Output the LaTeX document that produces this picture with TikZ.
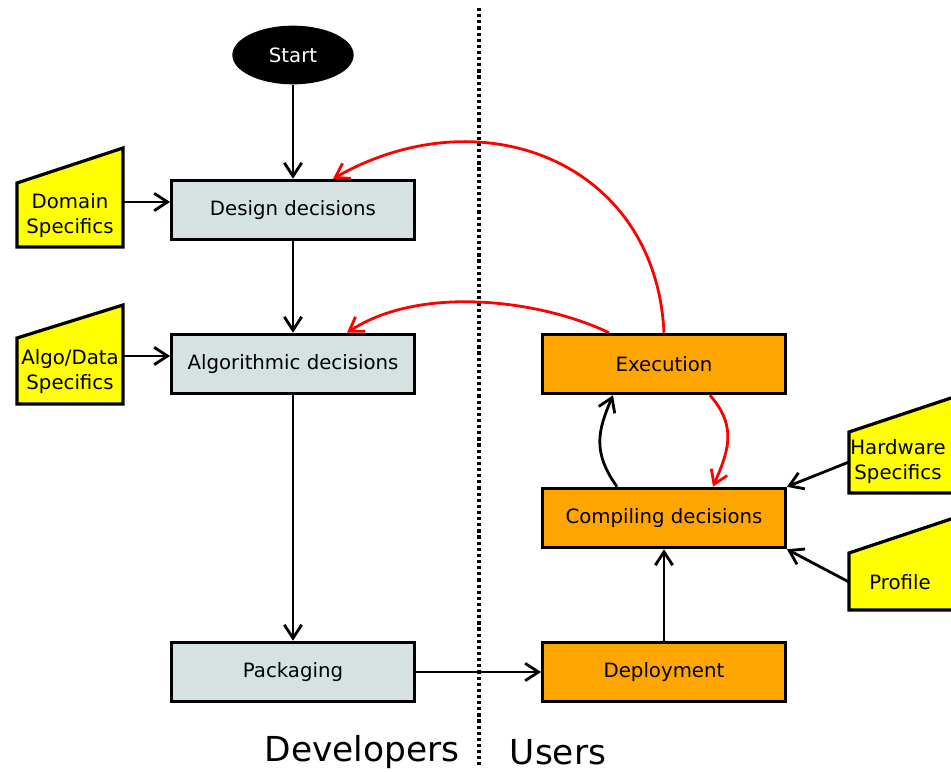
\documentclass[tikz,border=0pt]{standalone}
\usepackage{fontspec}
\setmainfont{DejaVu Sans}
\usetikzlibrary{calc,arrows.meta,shapes.geometric}

\definecolor{devfill}{HTML}{D6E2E2}
\definecolor{usrfill}{HTML}{FFA500}
\definecolor{specfill}{HTML}{FFFF00}

\begin{document}
\begin{tikzpicture}[
  x=0.75pt, y=-0.75pt,
  font=\fontsize{14.8}{18.75}\selectfont,
  >={Straight Barb[length=10pt,width=13pt]},
  dev/.style={rectangle, draw, line width=2.4pt, fill=devfill, minimum width=182pt, minimum height=44.5pt},
  usr/.style={dev, fill=usrfill},
  spec/.style={draw, line width=2.4pt, fill=specfill},
  spectext/.style={align=center},
  flow/.style={->, line width=2.1pt},
  back/.style={->, line width=2.1pt, red}
]
\useasboundingbox (0,0) rectangle (951,772);

% developer side
\node[ellipse, fill=black, text=white, minimum width=91pt, minimum height=44pt] (start) at (293,55) {Start};
\node[dev] (design) at (293,210) {Design decisions};
\node[dev] (algo) at (293,364) {Algorithmic decisions};
\node[dev] (pack) at (293,672) {Packaging};

% user side
\node[usr] (exec) at (664,364) {Execution};
\node[usr] (compile) at (664,518) {Compiling decisions};
\node[usr] (deploy) at (664,672) {Deployment};

% yellow inputs
\draw[spec] (17,183) -- (123,148) -- (123,247) -- (17,247) -- cycle;
\node[spectext] (domain) at (70,216) {Domain\\Specifics};
\coordinate (domain-e) at (123,202);
\draw[spec] (17,338) -- (123,305) -- (123,404) -- (17,404) -- cycle;
\node[spectext] (algodata) at (70,372) {Algo/Data\\Specifics};
\coordinate (algodata-e) at (123,356);
\draw[spec] (849,432) -- (960,395) -- (960,493) -- (849,493) -- cycle;
\node[spectext] (hw) at (898,462) {Hardware\\Specifics};
\coordinate (hw-w) at (849,462);
\draw[spec] (849,553) -- (960,516) -- (960,610) -- (849,610) -- cycle;
\node[spectext] (profile) at (900,582) {Profile};
\coordinate (profile-w) at (849,582);

% divider
\draw[line width=2.6pt, dash pattern=on 2.4pt off 2.2pt] (479,8) -- (479,765);
\node[font=\fontsize{25.8}{30}\selectfont] (devs) at (362,752) {Developers};
\node[font=\fontsize{25.8}{30}\selectfont] (users) at (558,752) {Users};

% main flow
\draw[flow] (start) -- (design);
\draw[flow] (design) -- (algo);
\draw[flow] (algo) -- (pack);
\draw[flow] (pack) -- (deploy);
\draw[flow] (deploy) -- (compile);
\draw[flow] (domain-e) -- (design.west |- domain-e);
\draw[flow] (algodata-e) -- (algo.west |- algodata-e);
\draw[flow] (hw-w) -- (compile.north east);
\draw[flow] (profile-w) -- (compile.south east);
\draw[flow] ($(compile.north)+(-47,0)$) .. controls +(-25,-35) and +(-15,35) .. ($(exec.south)+(-51,0)$);

% feedback
\draw[back] (exec.north) .. controls +(-8,-170) and +(150,-85) .. ($(design.north)+(40,0)$);
\draw[back] ($(exec.north)+(-55,0)$) .. controls +(-69,-33) and +(73,-48) .. ($(algo.north)+(54,0)$);
\draw[back] ($(exec.south)+(46,0)$) .. controls +(28,32) and +(15,-35) .. ($(compile.north)+(49,0)$);
\end{tikzpicture}
\end{document}
